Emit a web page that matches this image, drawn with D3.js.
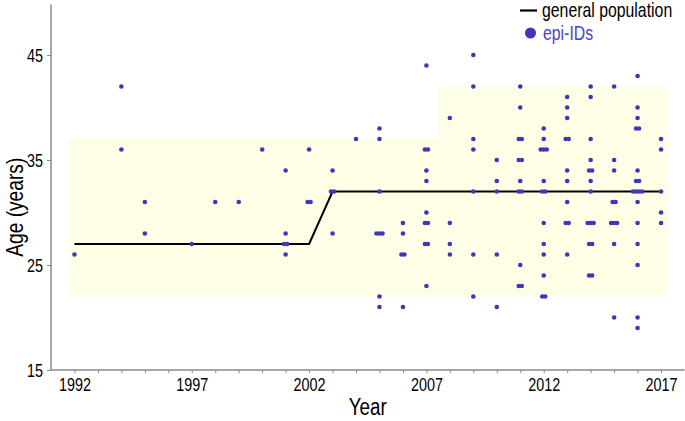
<!DOCTYPE html>
<html>
<head>
<meta charset="utf-8">
<script src="https://cdn.jsdelivr.net/npm/d3@7"></script>
<style>
  html, body { margin: 0; padding: 0; background: #fff; }
  svg { display: block; }
  text { font-family: 'Liberation Sans', Arial, sans-serif; }
</style>
</head>
<body>
<svg id="chart" width="685" height="421"></svg>
<script>
// ---- data ----
const xTickYears = [1992, 1997, 2002, 2007, 2012, 2017];
const yTickAges = [15, 25, 35, 45];

// general population line
const genPopYears = [1992, 2002, 2003, 2017];
const genPopAges = [27, 27, 32, 32];

// reference band (shaded)
const bandStart = [1991.75, 2007.5];
const bandEnd = [2007.5, 2017.25];
const bandLow = [22, 22];
const bandHigh = [37, 42];

// epi-ID points: year, age, number of overlapping cases
const ptYear = [
  1992,
  1994, 1994,
  1995, 1995,
  1997, 1998, 1999, 2000,
  2001, 2001, 2001, 2001,
  2002, 2002,
  2003, 2003, 2003,
  2004,
  2005, 2005, 2005, 2005, 2005, 2005,
  2006, 2006, 2006, 2006,
  2007, 2007, 2007, 2007, 2007, 2007, 2007, 2007,
  2008, 2008, 2008, 2008,
  2009, 2009, 2009, 2009, 2009, 2009, 2009,
  2010, 2010, 2010, 2010, 2010,
  2011, 2011, 2011, 2011, 2011, 2011, 2011, 2011,
  2012, 2012, 2012, 2012, 2012, 2012, 2012, 2012, 2012, 2012,
  2013, 2013, 2013, 2013, 2013, 2013, 2013, 2013, 2013,
  2014, 2014, 2014, 2014, 2014, 2014, 2014, 2014, 2014, 2014,
  2015, 2015, 2015, 2015, 2015, 2015, 2015,
  2016, 2016, 2016, 2016, 2016, 2016, 2016, 2016, 2016, 2016, 2016, 2016, 2016,
  2017, 2017, 2017, 2017, 2017
];
const ptAge = [
  26,
  42, 36,
  31, 28,
  27, 31, 31, 36,
  34, 28, 27, 26,
  36, 31,
  34, 32, 28,
  37,
  38, 37, 32, 28, 22, 21,
  29, 28, 26, 21,
  44, 36, 34, 33, 30, 29, 27, 23,
  39, 29, 27, 26,
  45, 42, 37, 36, 32, 26, 22,
  35, 33, 32, 26, 21,
  42, 40, 37, 35, 33, 32, 25, 23,
  38, 37, 36, 33, 32, 29, 27, 26, 24, 22,
  41, 40, 39, 37, 34, 33, 31, 29, 26,
  42, 41, 37, 35, 34, 33, 32, 29, 27, 24,
  42, 35, 34, 31, 29, 27, 20,
  43, 40, 39, 38, 34, 33, 32, 31, 29, 27, 25, 20, 19,
  37, 36, 32, 30, 29
];
const ptCount = [
  1,
  1, 1,
  1, 1,
  1, 1, 1, 1,
  1, 1, 2, 1,
  1, 2,
  1, 2, 1,
  1,
  1, 1, 1, 3, 1, 1,
  1, 1, 2, 1,
  1, 2, 1, 1, 1, 2, 2, 1,
  1, 1, 1, 1,
  1, 1, 1, 1, 1, 1, 1,
  1, 1, 1, 1, 1,
  1, 1, 2, 2, 1, 2, 1, 2,
  1, 1, 3, 1, 2, 1, 1, 1, 1, 2,
  1, 1, 1, 2, 1, 1, 1, 2, 1,
  1, 1, 1, 1, 2, 1, 1, 3, 2, 2,
  1, 1, 1, 2, 3, 1, 1,
  1, 1, 1, 2, 1, 2, 4, 1, 1, 1, 1, 1, 1,
  1, 1, 1, 1, 1
];

// ---- drawing ----
const svg = d3.select('#chart');
const dotColor = '#4136b9';
const axisColor = '#8a8a8a';
const NARROW = 0.8;

const x = d3.scaleLinear().domain([1991, 2018]).range([51, 684.5]);
const y = d3.scaleLinear().domain([15, 49.8]).range([370, 4.6]);

function narrowText(sel, px, py, size, anchor, str, extra) {
  const t = sel.append('text')
    .attr('transform', `translate(${px},${py}) ${extra || ''} scale(${NARROW},1)`)
    .attr('text-anchor', anchor)
    .attr('font-size', size)
    .text(str);
  return t;
}

// band
const bands = bandStart.map((s, i) => ({ s, e: bandEnd[i], lo: bandLow[i], hi: bandHigh[i] }));
svg.append('g').selectAll('rect').data(bands).join('rect')
  .attr('x', d => x(d.s))
  .attr('width', d => x(d.e) - x(d.s))
  .attr('y', d => y(d.hi))
  .attr('height', d => y(d.lo) - y(d.hi))
  .attr('fill', '#fefee6');

// general population line
const linePts = genPopYears.map((yr, i) => [yr, genPopAges[i]]);
svg.append('path')
  .datum(linePts)
  .attr('d', d3.line().x(d => x(d[0])).y(d => y(d[1])))
  .attr('fill', 'none')
  .attr('stroke', '#000')
  .attr('stroke-width', 2);

// points
const pts = [];
ptYear.forEach((yr, i) => {
  const n = ptCount[i];
  for (let k = 0; k < n; k++) pts.push({ yr, age: ptAge[i], off: (k - (n - 1) / 2) * 3 });
});
svg.append('g').selectAll('circle').data(pts).join('circle')
  .attr('cx', d => x(d.yr) + d.off)
  .attr('cy', d => y(d.age))
  .attr('r', 2.3)
  .attr('fill', dotColor);

// axes
const xAxis = d3.axisBottom(x)
  .tickValues(d3.range(1992, 2018))
  .tickSize(3)
  .tickFormat(d => xTickYears.includes(d) ? String(d) : '');
const gx = svg.append('g').attr('transform', 'translate(0,370)').call(xAxis);
gx.select('.domain').attr('stroke', axisColor).attr('stroke-width', 1.5).attr('d', `M${x(1991)},0H${x(2018)}`);
gx.selectAll('.tick line').attr('stroke', axisColor);
gx.selectAll('.tick text')
  .attr('font-size', 18).attr('fill', '#000')
  .attr('y', 0).attr('dy', 0)
  .attr('transform', `translate(0,21) scale(${NARROW},1)`)
  .style('font-family', "'Liberation Sans', Arial, sans-serif");

const yAxis = d3.axisLeft(y).tickValues(yTickAges).tickSize(4).tickFormat(d3.format('d'));
const gy = svg.append('g').attr('transform', 'translate(51,0)').call(yAxis);
gy.select('.domain').attr('stroke', axisColor).attr('stroke-width', 1.5).attr('d', `M0,${y(49.8)}V${y(15)}`);
gy.selectAll('.tick line').attr('stroke', axisColor);
gy.selectAll('.tick text')
  .attr('font-size', 18).attr('fill', '#000')
  .attr('x', 0).attr('dy', 0).attr('y', 0)
  .attr('transform', `translate(-8,6.5) scale(${NARROW},1)`)
  .style('font-family', "'Liberation Sans', Arial, sans-serif");

// axis titles
narrowText(svg, x(2004.5), 415, 23.5, 'middle', 'Year');
narrowText(svg, 23, y(30.5), 24, 'middle', 'Age (years)', 'rotate(-90)');

// legend
const lg = svg.append('g');
lg.append('line').attr('x1', 520).attr('x2', 537).attr('y1', 10.5).attr('y2', 10.5)
  .attr('stroke', '#000').attr('stroke-width', 2.2);
narrowText(lg, 542, 17, 19.8, 'start', 'general population').attr('fill', '#000');
lg.append('circle').attr('cx', 530.5).attr('cy', 33).attr('r', 5.5).attr('fill', dotColor);
narrowText(lg, 543, 40, 19.8, 'start', 'epi-IDs').attr('fill', '#4a44c4');
</script>
</body>
</html>
